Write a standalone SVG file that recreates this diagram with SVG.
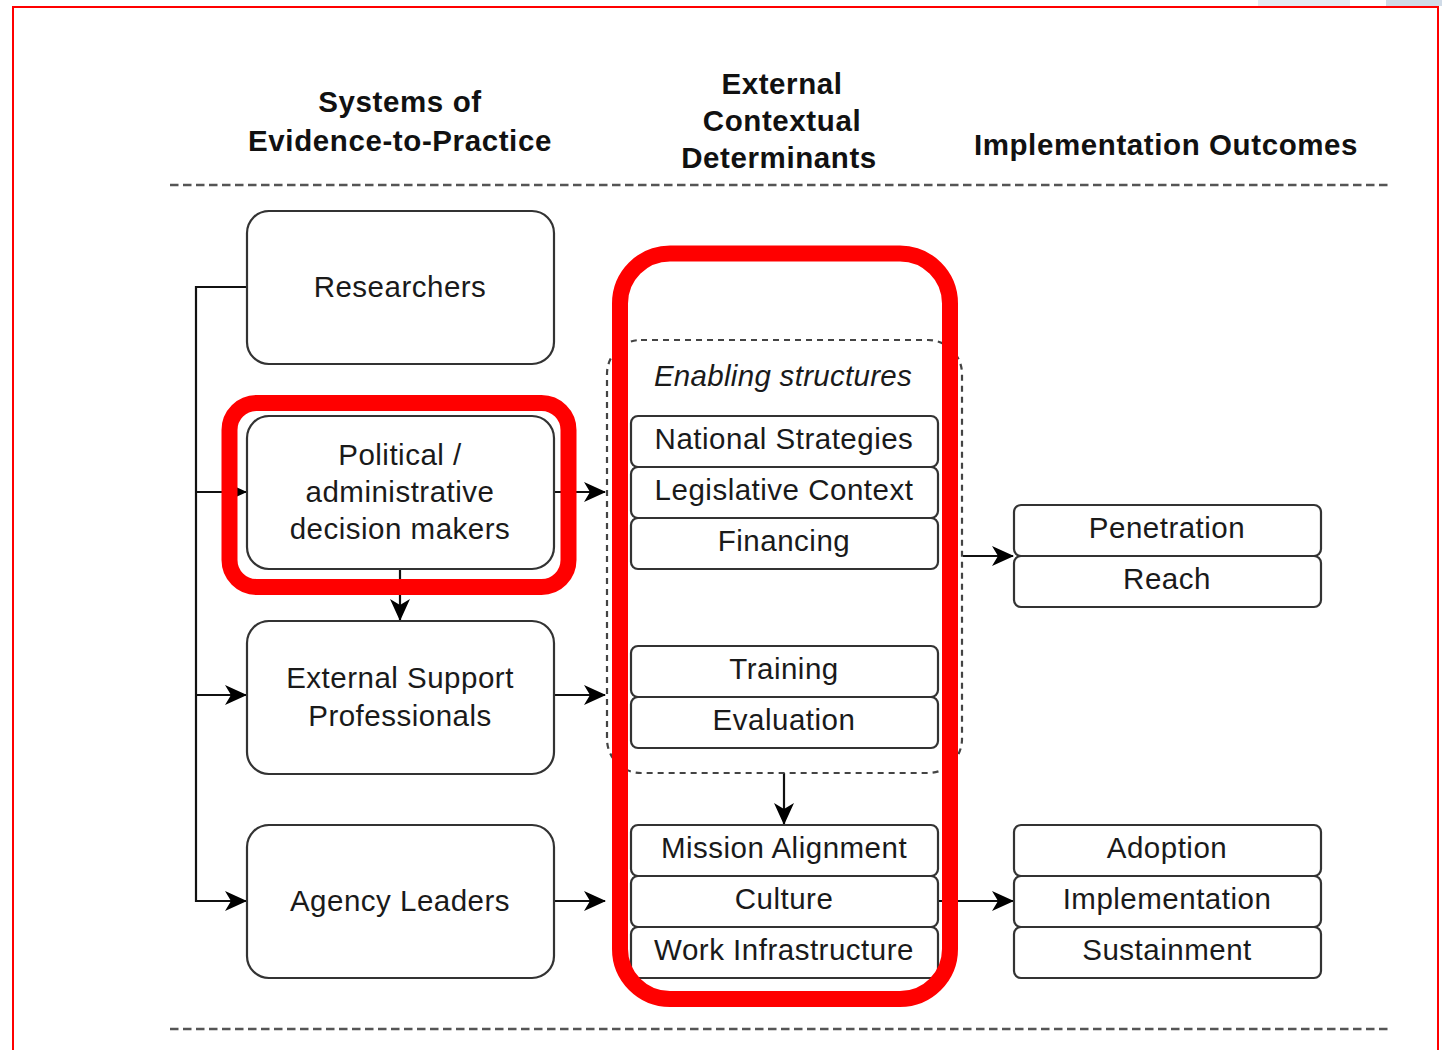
<svg xmlns="http://www.w3.org/2000/svg" width="1442" height="1050" viewBox="0 0 1442 1050">
<style>
.hdr{font-family:"Liberation Sans",Arial,sans-serif;font-size:29.5px;font-weight:bold;fill:#111;text-anchor:middle;letter-spacing:0.6px}
.t{font-family:"Liberation Sans",Arial,sans-serif;font-size:29.5px;fill:#1a1a1a;text-anchor:middle;letter-spacing:0.5px}
.it{font-family:"Liberation Sans",Arial,sans-serif;font-size:29.5px;font-style:italic;fill:#1a1a1a;text-anchor:middle;letter-spacing:0.3px}
.big{fill:#fff;stroke:#333;stroke-width:2.2}
.sm{fill:#fff;stroke:#333;stroke-width:2.2}
.sep{stroke:#555;stroke-width:2.5;stroke-dasharray:8.5 4.5;fill:none}
.con{fill:none;stroke:#111;stroke-width:2.2}
.hl{fill:none;stroke:#ff0000;stroke-width:16}
</style>
<defs>
<marker id="arr" viewBox="0 0 22 22" markerWidth="22" markerHeight="22" refX="21" refY="11" orient="auto" markerUnits="userSpaceOnUse">
<path d="M0,1 L22,11 L0,21 L6,11 z" fill="#000"/>
</marker>
</defs>
<rect x="0" y="0" width="1442" height="1050" fill="#fff"/>
<g id="artifacts">
<rect x="1258" y="0" width="92" height="6" fill="#e5ebf2"/>
<rect x="1386" y="0" width="56" height="6" fill="#d0dbe7"/>
</g>
<rect id="frame" x="13" y="7" width="1425" height="1060" fill="none" stroke="#ff0000" stroke-width="2"/>

<g id="headers">
<text class="hdr" x="400" y="112">Systems of</text>
<text class="hdr" x="400" y="151">Evidence-to-Practice</text>
<text class="hdr" x="782" y="94">External</text>
<text class="hdr" x="782" y="131">Contextual</text>
<text class="hdr" x="779" y="168">Determinants</text>
<text class="hdr" x="1166" y="155">Implementation Outcomes</text>
</g>
<g id="separators">
<line class="sep" x1="170" y1="185" x2="1390" y2="185"/>
<line class="sep" x1="170" y1="1029" x2="1390" y2="1029"/>
</g>

<g id="connectors">
<path class="con" d="M247,287 H196 V901 H246" marker-end="url(#arr)"/>
<path class="con" d="M196,492 H246" marker-end="url(#arr)"/>
<path class="con" d="M196,695 H246" marker-end="url(#arr)"/>
<path class="con" d="M400,569 V620" marker-end="url(#arr)"/>
<path class="con" d="M554,492 H605" marker-end="url(#arr)"/>
<path class="con" d="M554,695 H605" marker-end="url(#arr)"/>
<path class="con" d="M554,901 H605" marker-end="url(#arr)"/>
<path class="con" d="M784,773 V824" marker-end="url(#arr)"/>
<path class="con" d="M963,556 H1013" marker-end="url(#arr)"/>
<path class="con" d="M938,901 H1013" marker-end="url(#arr)"/>
</g>

<g id="researchers">
<rect class="big" x="247" y="211" width="307" height="153" rx="22"/>
<text class="t" x="400" y="297">Researchers</text>
</g>
<g id="political">
<rect class="big" x="247" y="416" width="307" height="153" rx="22"/>
<text class="t" x="400" y="465">Political /</text>
<text class="t" x="400" y="502">administrative</text>
<text class="t" x="400" y="539">decision makers</text>
</g>
<g id="external-support">
<rect class="big" x="247" y="621" width="307" height="153" rx="22"/>
<text class="t" x="400" y="688">External Support</text>
<text class="t" x="400" y="726">Professionals</text>
</g>
<g id="agency-leaders">
<rect class="big" x="247" y="825" width="307" height="153" rx="22"/>
<text class="t" x="400" y="911">Agency Leaders</text>
</g>

<g id="enabling-structures">
<rect x="607" y="340" width="355" height="433" rx="34" fill="none" stroke="#444" stroke-width="2.2" stroke-dasharray="6 5"/>
<text class="it" x="783" y="386">Enabling structures</text>
</g>
<g id="national-strategies">
<rect class="sm" x="631" y="416" width="307" height="51" rx="7"/>
<text class="t" x="784" y="449">National Strategies</text>
</g>
<g id="legislative-context">
<rect class="sm" x="631" y="467" width="307" height="51" rx="7"/>
<text class="t" x="784" y="500">Legislative Context</text>
</g>
<g id="financing">
<rect class="sm" x="631" y="518" width="307" height="51" rx="7"/>
<text class="t" x="784" y="551">Financing</text>
</g>
<g id="training">
<rect class="sm" x="631" y="646" width="307" height="51" rx="7"/>
<text class="t" x="784" y="679">Training</text>
</g>
<g id="evaluation">
<rect class="sm" x="631" y="697" width="307" height="51" rx="7"/>
<text class="t" x="784" y="730">Evaluation</text>
</g>
<g id="mission-alignment">
<rect class="sm" x="631" y="825" width="307" height="51" rx="7"/>
<text class="t" x="784" y="858">Mission Alignment</text>
</g>
<g id="culture">
<rect class="sm" x="631" y="876" width="307" height="51" rx="7"/>
<text class="t" x="784" y="909">Culture</text>
</g>
<g id="work-infrastructure">
<rect class="sm" x="631" y="927" width="307" height="51" rx="7"/>
<text class="t" x="784" y="960">Work Infrastructure</text>
</g>

<g id="penetration">
<rect class="sm" x="1014" y="505" width="307" height="51" rx="7"/>
<text class="t" x="1167" y="538">Penetration</text>
</g>
<g id="reach">
<rect class="sm" x="1014" y="556" width="307" height="51" rx="7"/>
<text class="t" x="1167" y="589">Reach</text>
</g>
<g id="adoption">
<rect class="sm" x="1014" y="825" width="307" height="51" rx="7"/>
<text class="t" x="1167" y="858">Adoption</text>
</g>
<g id="implementation">
<rect class="sm" x="1014" y="876" width="307" height="51" rx="7"/>
<text class="t" x="1167" y="909">Implementation</text>
</g>
<g id="sustainment">
<rect class="sm" x="1014" y="927" width="307" height="51" rx="7"/>
<text class="t" x="1167" y="960">Sustainment</text>
</g>

<g id="highlights">
<rect class="hl" x="229.5" y="403" width="339" height="184" rx="27"/>
<rect class="hl" x="620" y="253.5" width="330" height="745.5" rx="50"/>
</g>
</svg>
